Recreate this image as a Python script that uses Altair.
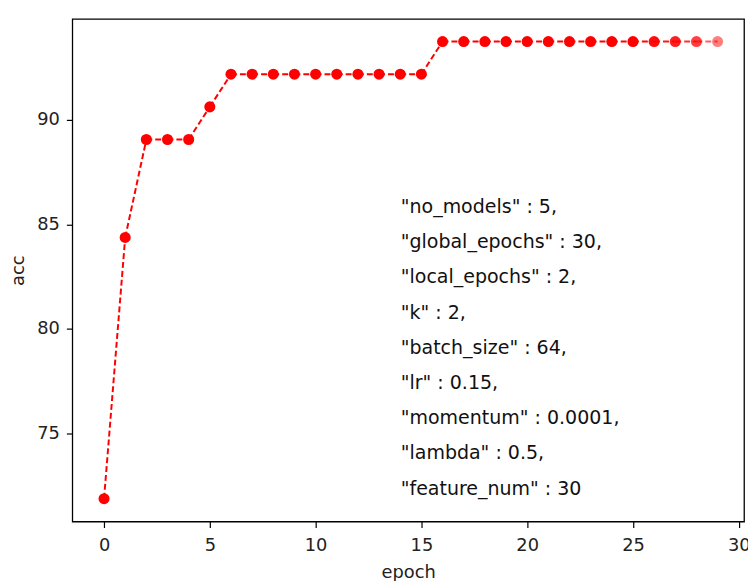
import altair as alt
import pandas as pd

# ---- data ----
EPOCHS = list(range(30))
ACC = [71.875, 84.375, 89.0625, 89.0625, 89.0625, 90.625,
       92.1875, 92.1875, 92.1875, 92.1875, 92.1875, 92.1875, 92.1875, 92.1875, 92.1875, 92.1875,
       93.75, 93.75, 93.75, 93.75, 93.75, 93.75, 93.75, 93.75, 93.75, 93.75, 93.75, 93.75, 93.75, 93.75]
FADE = [1.0] * 26 + [0.95, 0.88, 0.75, 0.5]
PARAMS = ['"no_models" : 5,', '"global_epochs" : 30,', '"local_epochs" : 2,', '"k" : 2,',
          '"batch_size" : 64,', '"lr" : 0.15,', '"momentum" : 0.0001,', '"lambda" : 0.5,',
          '"feature_num" : 30']
X_TICKS = [0, 5, 10, 15, 20, 25, 30]
Y_TICKS = [75, 80, 85, 90]

pts = pd.DataFrame({"epoch": EPOCHS, "acc": ACC, "fade": FADE})
seg = pd.DataFrame({
    "x": EPOCHS[:-1], "x2": EPOCHS[1:], "y": ACC[:-1], "y2": ACC[1:],
    "fade": [(a + b) / 2 for a, b in zip(FADE[:-1], FADE[1:])],
})

RED = "#ff0000"
xscale = alt.Scale(domain=[-1.5, 30.25], nice=False, zero=False)
yscale = alt.Scale(domain=[70.78, 94.83], nice=False, zero=False)

xaxis = alt.Axis(values=X_TICKS, title="epoch", grid=False, domain=False,
                 tickColor="#000", tickSize=6, tickWidth=1.2,
                 labelFont="DejaVu Sans", labelFontSize=18, labelColor="#222",
                 labelPadding=9, titleFont="DejaVu Sans", titleFontSize=18,
                 titleFontWeight="normal", titleColor="#222", titlePadding=10)
yaxis = alt.Axis(values=Y_TICKS, title="acc", grid=False, domain=False,
                 tickColor="#000", tickSize=6, tickWidth=1.2,
                 labelFont="DejaVu Sans", labelFontSize=18, labelColor="#222",
                 labelPadding=7, titleFont="DejaVu Sans", titleFontSize=18,
                 titleFontWeight="normal", titleColor="#222", titlePadding=9)

lines = alt.Chart(seg).mark_rule(color=RED, strokeWidth=2, strokeDash=[6, 3]).encode(
    x=alt.X("x:Q", scale=xscale, axis=xaxis),
    x2="x2:Q",
    y=alt.Y("y:Q", scale=yscale, axis=yaxis),
    y2="y2:Q",
    opacity=alt.Opacity("fade:Q", scale=None, legend=None),
)

points = alt.Chart(pts).mark_circle(color=RED, size=125).encode(
    x=alt.X("epoch:Q", scale=xscale),
    y=alt.Y("acc:Q", scale=yscale),
    opacity=alt.Opacity("fade:Q", scale=None, legend=None),
)

note = alt.Chart(pd.DataFrame({"a": [0]})).mark_text(
    text=PARAMS, align="left", baseline="middle", font="DejaVu Sans",
    fontSize=19.2, lineHeight=35.6, color="#111",
).encode(x=alt.value(332), y=alt.value(190))

chart = alt.layer(lines, points, note).properties(
    width=679, height=508, autosize="none",
    padding={"left": 65, "top": 8, "right": 4, "bottom": 57},
).configure_view(stroke="#000", strokeWidth=1.3)

chart.save("out.html", embed_options={"renderer": "svg", "actions": False})
